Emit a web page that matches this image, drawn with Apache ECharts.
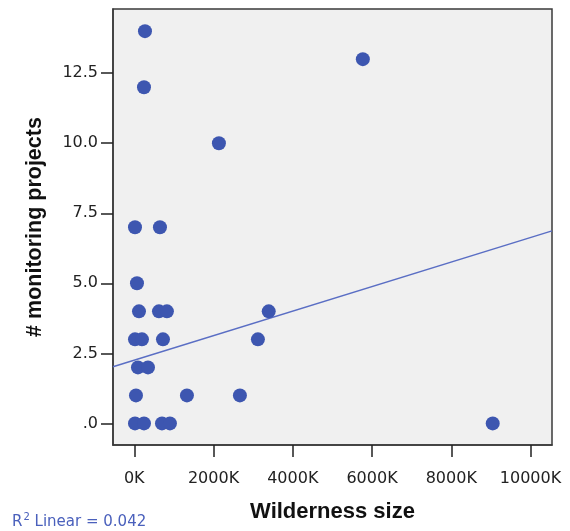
<!DOCTYPE html>
<html>
<head>
<meta charset="utf-8">
<script src="https://cdn.jsdelivr.net/npm/echarts@6/dist/echarts.min.js"></script>
<style>
  html, body { margin: 0; padding: 0; background: #ffffff; }
  #chart { width: 570px; height: 531px; }
</style>
</head>
<body>
<div id="chart"></div>
<script>
// Wilderness areas: size (thousands of acres) vs. number of monitoring projects
const wildernessSizeK = [270, 245, 5768, 2136, 18, 648, 68, 119, 623, 824, 3393, 18, 194, 724, 3120, 93, 346, 43, 1329, 2666, 18, 245, 699, 900, 9046];
const monitoringProjects = [14, 12, 13, 10, 7, 7, 5, 4, 4, 4, 4, 3, 3, 3, 3, 2, 2, 1, 1, 1, 0, 0, 0, 0, 0];

// Linear fit (R² = 0.042)
const fitIntercept = 2.255;
const fitSlope = 0.000438;
const rSquaredLabel = '0.042';

const xTicks = [0, 2000, 4000, 6000, 8000, 10000];
const yTicks = [0, 2.5, 5, 7.5, 10, 12.5];
const xRange = [-537, 10542];
const yRange = [-0.77, 14.79];

const points = wildernessSizeK.map((x, i) => [x, monitoringProjects[i]]);
const fitLine = xRange.map(x => [x, fitIntercept + fitSlope * x]);

const tickFont = 'DejaVu Sans';
const chart = echarts.init(document.getElementById('chart'), null, { renderer: 'canvas' });

chart.setOption({
  backgroundColor: '#ffffff',
  animation: false,
  grid: {
    left: 113, top: 9, right: 18, bottom: 86,
    show: true,
    backgroundColor: '#f0f0f0',
    borderColor: '#3a3a3a',
    borderWidth: 1.5
  },
  xAxis: {
    type: 'value',
    min: xRange[0], max: xRange[1],
    splitLine: { show: false },
    axisLine: { show: true, onZero: false, lineStyle: { color: '#3a3a3a', width: 1.5 } },
    axisTick: { show: true, customValues: xTicks, length: 12, lineStyle: { color: '#222', width: 1.5 } },
    axisLabel: {
      customValues: xTicks,
      formatter: v => v + 'K',
      color: '#222', fontFamily: tickFont, fontSize: 16, margin: 26
    },
    name: 'Wilderness size',
    nameLocation: 'middle',
    nameGap: 56,
    nameTextStyle: { fontFamily: 'Liberation Sans', fontWeight: 'bold', fontSize: 22, color: '#111' }
  },
  yAxis: {
    type: 'value',
    min: yRange[0], max: yRange[1],
    splitLine: { show: false },
    axisLine: { show: true, onZero: false, lineStyle: { color: '#3a3a3a', width: 1.5 } },
    axisTick: { show: true, customValues: yTicks, length: 12, lineStyle: { color: '#222', width: 1.5 } },
    axisLabel: {
      customValues: yTicks,
      formatter: v => (v === 0 ? '.0' : v.toFixed(1)),
      color: '#222', fontFamily: tickFont, fontSize: 16, margin: 15
    },
    name: '# monitoring projects',
    nameLocation: 'middle',
    nameRotate: 90,
    nameGap: 67,
    nameTextStyle: { fontFamily: 'Liberation Sans', fontWeight: 'bold', fontSize: 21.5, color: '#111' }
  },
  series: [
    {
      type: 'line',
      data: fitLine,
      symbol: 'none',
      silent: true,
      lineStyle: { color: '#5a6ec4', width: 1.5 },
      z: 2
    },
    {
      type: 'scatter',
      data: points,
      symbol: 'circle',
      symbolSize: 14,
      itemStyle: { color: '#3d56b0', opacity: 1 },
      z: 3
    }
  ],
  graphic: [
    {
      type: 'text',
      left: 12,
      top: 512,
      style: {
        text: '{r|R}{sup|2}{r| Linear = ' + rSquaredLabel + '}',
        rich: {
          r: { fontFamily: tickFont, fontSize: 15, fill: '#4a60bc', verticalAlign: 'bottom', lineHeight: 18 },
          sup: { fontFamily: tickFont, fontSize: 10, fill: '#4a60bc', verticalAlign: 'top', lineHeight: 18, padding: [0, 0, 8, 1] }
        }
      }
    }
  ]
});
</script>
</body>
</html>
